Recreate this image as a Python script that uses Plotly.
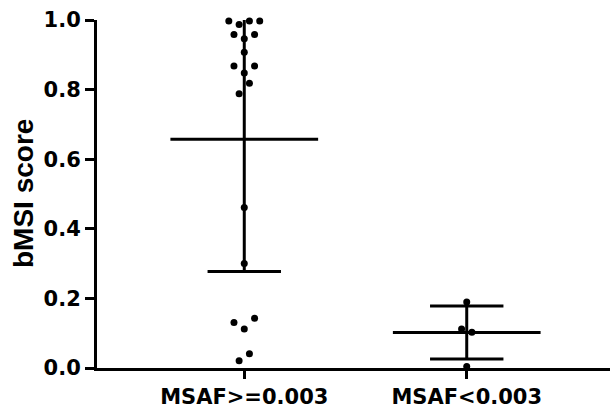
import numpy as np
import plotly.graph_objects as go

# ---- data ----
categories = ["MSAF>=0.003", "MSAF<0.003"]
group_high = [0.997, 0.987, 0.997, 0.997,
              0.958, 0.946, 0.958,
              0.907,
              0.868, 0.848, 0.868,
              0.788, 0.818,
              0.461, 0.300,
              0.131, 0.112, 0.143,
              0.021, 0.041]
group_low = [0.190, 0.112, 0.103, 0.004]
y_ticks = [0.0, 0.2, 0.4, 0.6, 0.8, 1.0]
y_title = "bMSI score"

groups = [group_high, group_low]

# ---- style / layout constants ----
TICK_FONT = "DejaVu Sans"
TITLE_FONT = "Liberation Sans"
LINE_W = 3
DOT_STEP = 0.0463      # horizontal spacing of dots (x units)
BIN_TOL = 0.033        # y tolerance for dots sharing a row
MEAN_HALF = 0.332
SD_HALF = 0.165


def swarm_offsets(vals):
    """Sequential binning: dots close in y are spread symmetrically."""
    bins = []
    for i, v in enumerate(vals):
        if bins and abs(v - vals[bins[-1][0]]) <= BIN_TOL:
            bins[-1].append(i)
        else:
            bins.append([i])
    off = [0.0] * len(vals)
    for b in bins:
        n = len(b)
        for k, idx in enumerate(b):
            off[idx] = (k - (n - 1) / 2) * DOT_STEP
    return off


fig = go.Figure()

for gi, vals in enumerate(groups):
    arr = np.array(vals)
    m = arr.mean()
    sd = arr.std(ddof=1)
    c = gi
    # vertical SD line
    fig.add_trace(go.Scatter(x=[c, c], y=[m - sd, m + sd], mode="lines",
                             line=dict(color="black", width=LINE_W),
                             showlegend=False, hoverinfo="skip"))
    # mean line
    fig.add_trace(go.Scatter(x=[c - MEAN_HALF, c + MEAN_HALF], y=[m, m], mode="lines",
                             line=dict(color="black", width=LINE_W),
                             showlegend=False, hoverinfo="skip"))
    # SD caps
    for yy in (m - sd, m + sd):
        fig.add_trace(go.Scatter(x=[c - SD_HALF, c + SD_HALF], y=[yy, yy], mode="lines",
                                 line=dict(color="black", width=LINE_W),
                                 showlegend=False, hoverinfo="skip"))
    offs = swarm_offsets(vals)
    fig.add_trace(go.Scatter(x=[c + o for o in offs], y=vals, mode="markers",
                             marker=dict(color="black", size=7),
                             cliponaxis=False, showlegend=False))

fig.update_layout(
    width=610, height=412,
    margin=dict(l=97, r=0, t=20, b=44),
    plot_bgcolor="white", paper_bgcolor="white",
    xaxis=dict(range=[-0.662, 1.644], tickvals=[0, 1], ticktext=categories,
               showgrid=False, zeroline=False, showline=True, linecolor="black",
               linewidth=LINE_W, ticks="outside", ticklen=8, tickwidth=3,
               tickcolor="black",
               tickfont=dict(family=TICK_FONT, size=21, color="black", weight="bold")),
    yaxis=dict(range=[0, 1.0], tickvals=y_ticks, tickformat=".1f",
               showgrid=False, zeroline=False, showline=True, linecolor="black",
               linewidth=LINE_W, ticks="outside", ticklen=9, tickwidth=2.5,
               tickcolor="black",
               tickfont=dict(family=TICK_FONT, size=21, color="black", weight="bold")),
    annotations=[dict(text=y_title, textangle=-90, xref="paper", x=0, xshift=-74,
                      xanchor="center", yref="paper", y=0.5, yanchor="middle",
                      showarrow=False,
                      font=dict(family=TITLE_FONT, size=28, color="black", weight="bold"))],
)

fig.write_html("out.html", config={"displayModeBar": False},
               post_script="document.body.style.margin='0px';")
